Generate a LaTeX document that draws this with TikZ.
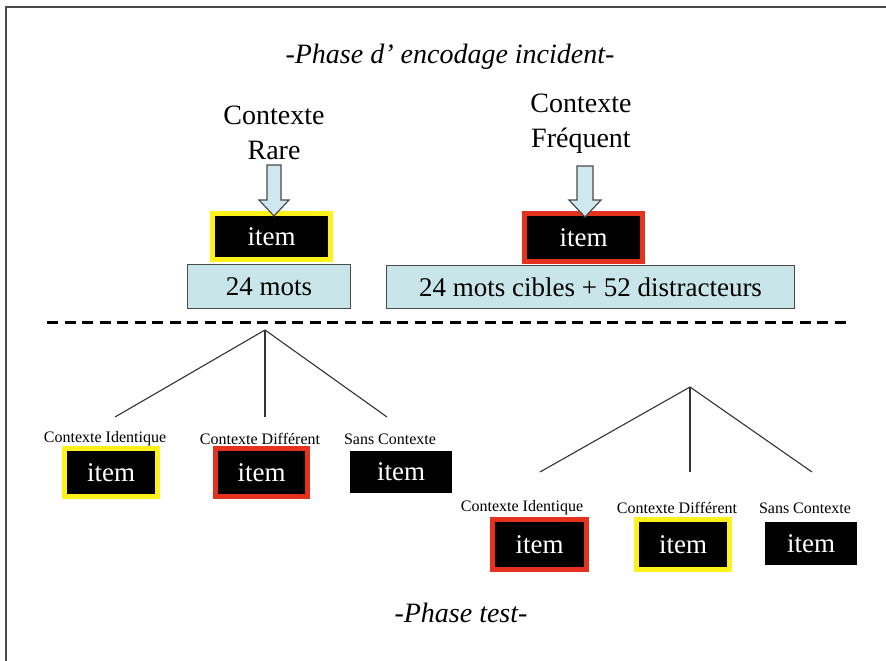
\documentclass[tikz,border=0pt]{standalone}
\usepackage{fontspec}
\setmainfont{Liberation Serif}
\definecolor{boxblue}{HTML}{C8E5EA}
\definecolor{arrblue}{HTML}{CFE7EE}
\definecolor{yel}{HTML}{FFF21A}
\definecolor{redc}{HTML}{E5321E}
\definecolor{frame}{HTML}{4A4A4A}
\begin{document}
\begin{tikzpicture}[x=1pt,y=-1pt,
  big/.style={font=\fontsize{28}{35}\selectfont},
  small/.style={font=\fontsize{16}{18}\selectfont},
  itembox/.style={fill=black,text=white,inner sep=0pt,font=\fontsize{27}{30}\selectfont},
  yframe/.style={draw=yel,line width=5pt},
  rframe/.style={draw=redc,line width=5pt},
  countbox/.style={fill=boxblue,draw=frame,line width=1.3pt,inner sep=0pt,font=\fontsize{27}{30}\selectfont},
  branch/.style={draw=black!80,line width=1.1pt},
  blockarrow/.style={fill=arrblue,draw=frame,line width=1.2pt,line join=miter},
  title/.style={font=\itshape\fontsize{28}{32}\selectfont}
]
\useasboundingbox (0,0) rectangle (886,661);
\fill[white] (0,0) rectangle (886,661);
\draw[frame,line width=2pt] (6,661) -- (6,7) -- (886,7);

% titles
\node[title] (t1) at (450,57) {-Phase d’ encodage incident-};
\node[title] (t2) at (461,613) {-Phase test-};

% encoding phase
\node[big,align=center] (cr) at (274,133) {Contexte\\Rare};
\node[big,align=center] (cf) at (581,124) {Contexte\\Fréquent};

\node[countbox,minimum width=162.5pt,minimum height=43.5pt] (m1) at (269,286.5) {24 mots};
\node[countbox,minimum width=407.5pt,minimum height=42.5pt] (m2) at (590.5,287) {24 mots cibles + 52 distracteurs};

\node[itembox,yframe,minimum width=118pt,minimum height=46pt] (i1) at (271.5,236.5) {item};
\node[itembox,rframe,minimum width=118pt,minimum height=48pt] (i2) at (583.5,237.5) {item};

\draw[blockarrow] (267,165) -- (281,165) -- (281,200) -- (289,200) -- (274,216) -- (259,200) -- (267,200) -- cycle;
\draw[blockarrow] (577,166) -- (593,166) -- (593,200) -- (601,200) -- (585,217) -- (569,200) -- (577,200) -- cycle;

% separator
\draw[black,line width=3pt,dash pattern=on 11pt off 6.5pt] (47,322) -- (846,322);

% left tree
\coordinate (a1) at (265,330);
\coordinate (l1) at (115,417);
\coordinate (l2) at (265,417);
\coordinate (l3) at (387,417);
\draw[branch] (l1) -- (a1) -- (l3);
\draw[branch] (a1) -- (l2);
\node[small] (lc1) at (105,439) {Contexte Identique};
\node[small] (lc2) at (260,439) {Contexte Différent};
\node[small] (lc3) at (390,439) {Sans Contexte};
\node[itembox,yframe,minimum width=93pt,minimum height=48pt] (b1) at (111,472.5) {item};
\node[itembox,rframe,minimum width=92pt,minimum height=48pt] (b2) at (261.5,472.5) {item};
\node[itembox,minimum width=102pt,minimum height=42pt] (b3) at (401,472) {item};

% right tree
\coordinate (a2) at (690,387);
\coordinate (r1) at (540,472);
\coordinate (r2) at (690,472);
\coordinate (r3) at (812,472);
\draw[branch] (r1) -- (a2) -- (r3);
\draw[branch] (a2) -- (r2);
\node[small] (rc1) at (522,508) {Contexte Identique};
\node[small] (rc2) at (677,508) {Contexte Différent};
\node[small] (rc3) at (805,508) {Sans Contexte};
\node[itembox,rframe,minimum width=94pt,minimum height=50pt] (c1) at (539.5,544.5) {item};
\node[itembox,yframe,minimum width=93pt,minimum height=50pt] (c2) at (683,544.5) {item};
\node[itembox,minimum width=92pt,minimum height=43pt] (c3) at (811,543.5) {item};
\end{tikzpicture}
\end{document}
